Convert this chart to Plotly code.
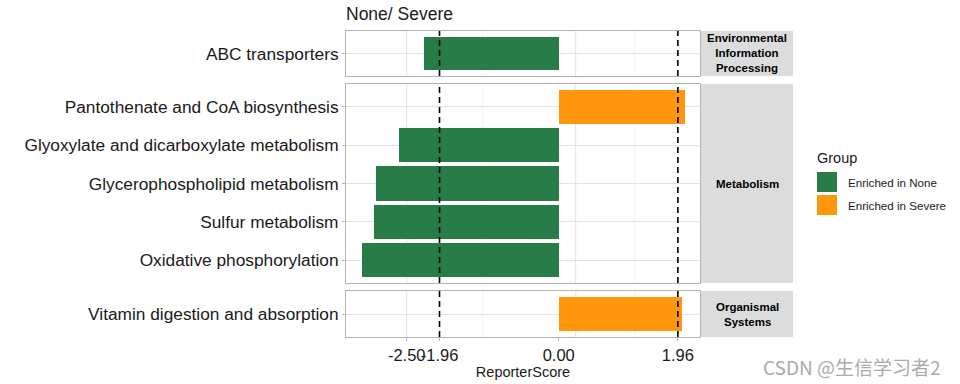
import plotly.graph_objects as go

# ---------------- data ----------------
panel_labels = ["Environmental<br>Information<br>Processing", "Metabolism", "Organismal<br>Systems"]

pathways_env = ["ABC transporters"]
scores_env = [-2.22]

pathways_met = [
    "Pantothenate and CoA biosynthesis",
    "Glyoxylate and dicarboxylate metabolism",
    "Glycerophospholipid metabolism",
    "Sulfur metabolism",
    "Oxidative phosphorylation",
]
scores_met = [2.07, -2.63, -3.00, -3.04, -3.24]

pathways_org = ["Vitamin digestion and absorption"]
scores_org = [2.03]

groups = ["Enriched in None", "Enriched in Severe"]
group_colors = ["#277C47", "#FE960E"]

threshold = 1.96
x_tick_vals = [-2.5, -1.96, 0, 1.96]
x_tick_text = ["-2.50", "-1.96", "0.00", "1.96"]

title_text = "None/ Severe"
x_title = "ReporterScore"
legend_title = "Group"
watermark = "CSDN @生信学习者2"

panels = [
    (pathways_env, scores_env),
    (pathways_met, scores_met),
    (pathways_org, scores_org),
]

# ---------------- layout geometry (pixels) ----------------
W, H = 960, 384
L, R, T, B = 346, 700, 31, 337
panel_px = [(31, 76), (84, 283), (291, 337)]
X_RANGE = [-3.498, 2.324]
FONT = "Liberation Sans, Arial, sans-serif"
TXT = "#1A1A1A"
BORDER = "#B3B3B3"


def px(xp):
    return (xp - L) / (R - L)


def py(yp):
    return (B - yp) / (B - T)


fig = go.Figure()

for i, (paths, scores) in enumerate(panels, start=1):
    xa = "x" if i == 1 else f"x{i}"
    ya = "y" if i == 1 else f"y{i}"
    for g, col in zip(groups, group_colors):
        sel = [(p, s) for p, s in zip(paths, scores) if (s < 0) == (g == groups[0])]
        if not sel:
            continue
        fig.add_trace(go.Bar(
            x=[s for _, s in sel], y=[p for p, _ in sel], orientation="h",
            marker=dict(color=col, line=dict(width=0)), width=0.9,
            xaxis=xa, yaxis=ya, showlegend=False, name=g,
            hovertemplate="%{y}: %{x}<extra>" + g + "</extra>",
        ))

layout = dict(
    width=W, height=H,
    margin=dict(l=L, r=W - R, t=T, b=H - B, pad=0, autoexpand=False),
    paper_bgcolor="white", plot_bgcolor="white",
    font=dict(family=FONT, color=TXT),
    showlegend=False,
    bargap=0,
    title=dict(text=title_text, x=L / W, xref="container", xanchor="left",
               y=1 - 14 / H, yref="container", yanchor="middle", automargin=False,
               font=dict(size=17.5, color=TXT, family=FONT)),
)

shapes = []
annotations = []

for i, (paths, scores) in enumerate(panels, start=1):
    top, bot = panel_px[i - 1]
    sfx = "" if i == 1 else str(i)
    n = len(paths)
    xk = "xaxis" + sfx
    yk = "yaxis" + sfx
    xax = dict(
        range=X_RANGE, showgrid=False, zeroline=False, automargin=False,
        showline=True, linecolor=BORDER, linewidth=1, mirror=True,
        tickvals=x_tick_vals, ticktext=x_tick_text, tickangle=0,
        anchor="y" + sfx, domain=[0, 1],
    )
    if i == 3:
        xax.update(ticks="outside", ticklen=3, tickcolor=BORDER, tickwidth=1,
                   tickfont=dict(size=16.5, color=TXT),
                   title=dict(text=x_title, font=dict(size=14.5, color=TXT), standoff=2))
    else:
        xax.update(matches="x3", showticklabels=False, ticks="")
    layout[xk] = xax
    layout[yk] = dict(
        type="category", categoryorder="array", categoryarray=paths,
        range=[n - 1 + 0.6, -0.6], automargin=False,
        domain=[py(bot), py(top)], anchor="x" + sfx,
        showgrid=True, gridcolor="#E3E3E3", gridwidth=1,
        zeroline=False, showline=True, linecolor=BORDER, linewidth=1, mirror=True,
        ticks="outside", ticklen=3, tickcolor=BORDER, tickwidth=1,
        tickfont=dict(size=17.3, color=TXT),
        fixedrange=True,
    )
    # vertical grid lines (major / minor)
    for gx, gc, gw in [(-2.5, "#E3E3E3", 1), (0.28, "#E3E3E3", 1),
                       (-1.25, "#F0F0F0", 0.8), (1.25, "#F0F0F0", 0.8)]:
        shapes.append(dict(type="line", xref="x" + sfx, yref=f"y{sfx} domain",
                           x0=gx, x1=gx, y0=0, y1=1, layer="below",
                           line=dict(color=gc, width=gw)))
    # threshold dashed lines
    for tx in (-threshold, threshold):
        shapes.append(dict(type="line", xref="x" + sfx, yref=f"y{sfx} domain",
                           x0=tx, x1=tx, y0=0, y1=1, layer="above",
                           line=dict(color="black", width=1.6, dash="6px,4px")))
    # strip
    shapes.append(dict(type="rect", xref="paper", yref="paper",
                       x0=px(701), x1=px(793), y0=py(bot), y1=py(top),
                       fillcolor="#DCDCDC", line=dict(width=0), layer="below"))
    annotations.append(dict(xref="paper", yref="paper", x=px(747), y=py((top + bot) / 2),
                            text="<b>" + panel_labels[i - 1] + "</b>", showarrow=False,
                            xanchor="center", yanchor="middle", align="center",
                            font=dict(size=11.5, color="black", family=FONT)))

# manual legend
annotations.append(dict(xref="paper", yref="paper", x=px(815), y=py(158),
                        text=legend_title, showarrow=False, xanchor="left", yanchor="middle",
                        font=dict(size=14.5, color=TXT, family=FONT)))
for k, (g, col) in enumerate(zip(groups, group_colors)):
    y0 = 172 + k * 23
    shapes.append(dict(type="rect", xref="paper", yref="paper",
                       x0=px(817), x1=px(837), y0=py(y0 + 20), y1=py(y0),
                       fillcolor=col, line=dict(width=0)))
    annotations.append(dict(xref="paper", yref="paper", x=px(846), y=py(y0 + 10),
                            text=g, showarrow=False, xanchor="left", yanchor="middle",
                            font=dict(size=11.6, color=TXT, family=FONT)))

# watermark
annotations.append(dict(xref="paper", yref="paper", x=px(761), y=py(366),
                        text=watermark, showarrow=False, xanchor="left", yanchor="middle",
                        font=dict(size=19, color="#ABABAB", family="Noto Sans CJK SC, sans-serif")))

layout["shapes"] = shapes
layout["annotations"] = annotations
fig.update_layout(**layout)

fig.write_html("out.html", config={"displayModeBar": False},
               post_script="document.body.style.margin='0';document.body.style.overflow='hidden';")
